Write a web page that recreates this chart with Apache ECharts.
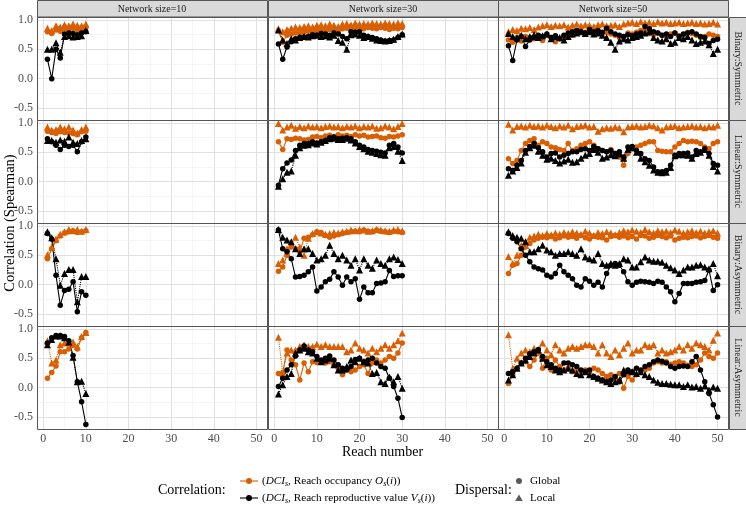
<!DOCTYPE html>
<html>
<head>
<meta charset="utf-8">
<script src="https://cdn.jsdelivr.net/npm/echarts@6/dist/echarts.min.js"></script>
<style>
html, body { margin: 0; padding: 0; background: #fff; }
#chart { width: 746px; height: 513px; }
</style>
</head>
<body>
<div id="chart"></div>
<script>
const FONT = '"Liberation Serif", "DejaVu Serif", serif';
const ORANGE = '#d95f02';
const BLACK = '#000000';

const networkSizes = [10, 30, 50];
const scenarios = ['Binary:Symmetric', 'Linear:Symmetric', 'Binary:Asymmetric', 'Linear:Asymmetric'];
const xTicks = [0, 10, 20, 30, 40, 50];
const xMinor = [5, 15, 25, 35, 45];
const yTicks = [-0.5, 0, 0.5, 1];
const yMinor = [-0.25, 0.25, 0.75];

// Binary:Symmetric
const bs10OccG = [0.80,0.77,0.83,0.81,0.85,0.83,0.86,0.84,0.82,0.87];
const bs10OccL = [0.86,0.82,0.90,0.88,0.92,0.90,0.93,0.91,0.90,0.93];
const bs10RepG = [0.33,0.00,0.50,0.35,0.76,0.78,0.77,0.75,0.78,0.80];
const bs10RepL = [0.50,0.50,0.61,0.45,0.72,0.73,0.71,0.72,0.73,0.82];
const bs30OccG = [0.82,0.62,0.74,0.76,0.78,0.77,0.80,0.81,0.79,0.82,0.83,0.81,0.84,0.83,0.80,0.85,0.86,0.84,0.87,0.86,0.85,0.87,0.86,0.85,0.87,0.86,0.84,0.86,0.85,0.87];
const bs30OccL = [0.85,0.80,0.84,0.86,0.88,0.87,0.89,0.90,0.88,0.91,0.92,0.90,0.93,0.91,0.89,0.93,0.94,0.92,0.95,0.93,0.94,0.93,0.95,0.94,0.93,0.95,0.94,0.93,0.95,0.94];
const bs30RepG = [0.59,0.33,0.54,0.63,0.68,0.70,0.71,0.72,0.75,0.74,0.77,0.76,0.74,0.78,0.76,0.72,0.68,0.80,0.79,0.80,0.74,0.72,0.70,0.68,0.66,0.64,0.65,0.66,0.70,0.75];
const bs30RepL = [0.83,0.66,0.60,0.68,0.66,0.70,0.72,0.71,0.73,0.74,0.72,0.73,0.71,0.74,0.65,0.62,0.50,0.75,0.76,0.74,0.70,0.72,0.69,0.66,0.65,0.64,0.65,0.67,0.72,0.76];
const bs50OccG = [0.66,0.62,0.70,0.64,0.72,0.70,0.68,0.72,0.65,0.74,0.70,0.63,0.68,0.72,0.76,0.74,0.78,0.80,0.79,0.81,0.78,0.80,0.77,0.79,0.76,0.74,0.70,0.72,0.78,0.76,0.79,0.82,0.80,0.77,0.75,0.78,0.74,0.72,0.76,0.78,0.73,0.75,0.79,0.77,0.74,0.70,0.72,0.76,0.74,0.72];
const bs50OccL = [0.80,0.84,0.82,0.86,0.85,0.87,0.84,0.88,0.90,0.92,0.89,0.91,0.90,0.92,0.88,0.91,0.93,0.90,0.92,0.91,0.89,0.92,0.93,0.90,0.91,0.92,0.89,0.93,0.95,0.96,0.94,0.97,0.95,0.96,0.94,0.97,0.95,0.96,0.94,0.95,0.96,0.94,0.95,0.96,0.94,0.95,0.93,0.94,0.96,0.93];
const bs50RepG = [0.56,0.31,0.66,0.72,0.55,0.66,0.70,0.74,0.72,0.76,0.70,0.73,0.68,0.74,0.78,0.80,0.82,0.80,0.78,0.84,0.80,0.82,0.79,0.86,0.80,0.76,0.74,0.72,0.75,0.73,0.76,0.78,0.89,0.85,0.80,0.78,0.74,0.76,0.72,0.78,0.72,0.76,0.78,0.80,0.76,0.72,0.70,0.60,0.65,0.67];
const bs50RepL = [0.77,0.72,0.70,0.74,0.68,0.72,0.75,0.70,0.73,0.76,0.68,0.72,0.70,0.66,0.72,0.76,0.78,0.80,0.77,0.80,0.76,0.78,0.74,0.70,0.62,0.50,0.64,0.68,0.66,0.70,0.72,0.74,0.78,0.80,0.70,0.66,0.64,0.68,0.60,0.62,0.70,0.68,0.72,0.66,0.60,0.62,0.64,0.58,0.43,0.50];

// Linear:Symmetric
const ls10OccG = [0.86,0.84,0.82,0.85,0.84,0.83,0.82,0.80,0.85,0.86];
const ls10OccL = [0.93,0.88,0.89,0.93,0.90,0.93,0.88,0.83,0.89,0.93];
const ls10RepG = [0.73,0.68,0.62,0.55,0.62,0.60,0.62,0.51,0.68,0.76];
const ls10RepL = [0.70,0.70,0.67,0.71,0.69,0.76,0.67,0.65,0.70,0.73];
const ls30OccG = [0.68,0.55,0.73,0.72,0.74,0.73,0.71,0.72,0.76,0.77,0.75,0.78,0.79,0.77,0.80,0.78,0.79,0.77,0.80,0.78,0.79,0.76,0.77,0.78,0.75,0.74,0.77,0.76,0.78,0.80];
const ls30OccL = [0.99,0.88,0.93,0.96,0.91,0.94,0.92,0.95,0.93,0.94,0.92,0.94,0.95,0.93,0.94,0.92,0.94,0.93,0.95,0.92,0.94,0.93,0.95,0.91,0.92,0.95,0.93,0.90,0.94,0.99];
const ls30RepG = [-0.06,0.22,0.32,0.37,0.53,0.62,0.65,0.65,0.68,0.66,0.68,0.70,0.75,0.76,0.73,0.74,0.75,0.73,0.68,0.62,0.59,0.55,0.53,0.52,0.50,0.49,0.62,0.65,0.59,0.49];
const ls30RepL = [-0.08,0.05,0.16,0.18,0.45,0.58,0.62,0.63,0.66,0.64,0.67,0.70,0.73,0.74,0.72,0.72,0.74,0.71,0.66,0.60,0.56,0.52,0.50,0.48,0.46,0.45,0.58,0.60,0.52,0.36];
const ls50OccG = [0.39,0.31,0.36,0.53,0.65,0.70,0.73,0.62,0.68,0.65,0.59,0.58,0.55,0.53,0.65,0.53,0.56,0.62,0.65,0.68,0.62,0.56,0.53,0.51,0.55,0.48,0.42,0.28,0.48,0.56,0.59,0.62,0.65,0.68,0.68,0.53,0.52,0.51,0.51,0.59,0.65,0.70,0.68,0.69,0.68,0.65,0.59,0.56,0.65,0.68];
const ls50OccL = [0.98,0.88,0.94,0.95,0.93,0.96,0.94,0.95,0.93,0.96,0.94,0.92,0.95,0.93,0.96,0.90,0.94,0.95,0.96,0.93,0.94,0.86,0.90,0.92,0.91,0.93,0.92,0.85,0.93,0.94,0.95,0.93,0.94,0.96,0.95,0.92,0.88,0.93,0.94,0.95,0.92,0.93,0.94,0.95,0.93,0.94,0.92,0.94,0.93,0.96];
const ls50RepG = [0.22,0.19,0.28,0.36,0.53,0.60,0.65,0.58,0.51,0.42,0.48,0.49,0.42,0.45,0.48,0.51,0.51,0.55,0.56,0.53,0.60,0.56,0.53,0.51,0.53,0.48,0.51,0.42,0.59,0.60,0.53,0.48,0.39,0.36,0.25,0.17,0.17,0.19,0.28,0.45,0.48,0.48,0.49,0.42,0.53,0.51,0.56,0.48,0.31,0.28];
const ls50RepL = [0.11,0.18,0.24,0.32,0.50,0.58,0.62,0.52,0.45,0.38,0.40,0.36,0.32,0.35,0.38,0.33,0.34,0.40,0.45,0.48,0.55,0.50,0.40,0.42,0.46,0.44,0.47,0.40,0.55,0.58,0.50,0.40,0.34,0.28,0.20,0.16,0.15,0.16,0.24,0.44,0.46,0.46,0.45,0.40,0.48,0.50,0.55,0.45,0.26,0.18];

// Binary:Asymmetric
const ba10OccG = [0.44,0.61,0.75,0.83,0.88,0.90,0.92,0.89,0.90,0.92];
const ba10OccL = [0.51,0.64,0.78,0.86,0.90,0.94,0.92,0.94,0.91,0.94];
const ba10RepG = [0.87,0.78,0.16,-0.35,-0.10,-0.08,0.05,-0.46,-0.12,-0.18];
const ba10RepL = [0.90,0.80,0.44,-0.01,0.19,0.26,0.26,-0.29,0.14,0.14];
const ba30OccG = [0.23,0.30,0.50,0.64,0.61,0.56,0.79,0.81,0.85,0.90,0.89,0.84,0.81,0.83,0.85,0.87,0.89,0.90,0.91,0.90,0.93,0.91,0.90,0.93,0.91,0.90,0.89,0.91,0.90,0.89];
const ba30OccL = [0.36,0.42,0.61,0.67,0.81,0.64,0.50,0.79,0.87,0.90,0.88,0.86,0.87,0.89,0.88,0.90,0.91,0.93,0.92,0.94,0.93,0.91,0.92,0.94,0.93,0.92,0.91,0.93,0.94,0.92];
const ba30RepG = [0.93,0.61,0.56,0.44,0.13,0.14,0.16,0.22,0.30,-0.11,-0.04,0.05,0.09,0.22,0.13,-0.01,0.13,0.05,0.10,-0.25,-0.04,-0.14,-0.14,0.02,0.03,0.05,0.24,0.14,0.15,0.15];
const ba30RepL = [0.94,0.81,0.76,0.73,0.61,0.53,0.61,0.61,0.53,0.42,0.44,0.50,0.67,0.53,0.44,0.50,0.42,0.33,0.44,0.25,0.44,0.33,0.28,0.42,0.36,0.33,0.44,0.47,0.43,0.36];
const ba50OccG = [0.19,0.33,0.36,0.50,0.64,0.70,0.76,0.79,0.81,0.80,0.82,0.78,0.80,0.83,0.81,0.82,0.79,0.84,0.80,0.78,0.83,0.81,0.80,0.76,0.82,0.84,0.81,0.83,0.80,0.82,0.78,0.84,0.83,0.79,0.81,0.84,0.82,0.80,0.83,0.76,0.79,0.81,0.80,0.82,0.83,0.80,0.82,0.84,0.81,0.79];
const ba50OccL = [0.48,0.36,0.50,0.67,0.73,0.81,0.83,0.86,0.84,0.87,0.85,0.88,0.86,0.89,0.87,0.90,0.88,0.86,0.91,0.88,0.84,0.89,0.87,0.90,0.88,0.85,0.89,0.92,0.90,0.93,0.91,0.89,0.94,0.90,0.88,0.92,0.90,0.91,0.89,0.93,0.91,0.88,0.90,0.92,0.89,0.91,0.88,0.90,0.92,0.88];
const ba50RepG = [0.87,0.79,0.73,0.61,0.50,0.39,0.30,0.27,0.25,0.16,0.13,0.19,0.33,0.22,0.16,0.10,-0.01,-0.04,0.10,0.06,-0.01,0.04,-0.04,0.19,0.33,0.36,0.33,0.22,0.05,-0.01,0.04,0.06,0.05,0.04,0.02,0.06,0.04,-0.04,-0.12,-0.29,-0.15,0.02,0.02,0.02,0.04,0.05,0.07,0.25,-0.10,0.00];
const ba50RepL = [0.90,0.84,0.81,0.79,0.73,0.56,0.56,0.61,0.67,0.59,0.56,0.50,0.53,0.53,0.56,0.53,0.50,0.61,0.47,0.44,0.42,0.53,0.36,0.33,0.36,0.33,0.36,0.44,0.42,0.30,0.30,0.39,0.47,0.42,0.40,0.40,0.38,0.33,0.29,0.25,0.19,0.25,0.30,0.30,0.33,0.34,0.30,0.27,0.36,0.15];

// Linear:Asymmetric
const la10OccG = [0.16,0.26,0.37,0.61,0.61,0.66,0.72,0.66,0.85,0.94];
const la10OccL = [0.80,0.42,0.47,0.73,0.76,0.77,0.78,0.70,0.87,0.94];
const la10RepG = [0.76,0.85,0.89,0.89,0.87,0.80,0.55,0.10,-0.24,-0.63];
const la10RepL = [0.73,0.82,0.88,0.88,0.85,0.78,0.52,0.10,0.11,-0.10];
const la30OccG = [0.24,0.26,0.64,0.47,0.39,0.13,0.42,0.27,0.44,0.43,0.44,0.42,0.44,0.39,0.33,0.22,0.33,0.27,0.30,0.36,0.39,0.24,0.42,0.47,0.42,0.47,0.53,0.50,0.59,0.76];
const la30OccL = [0.86,0.24,0.59,0.64,0.64,0.70,0.73,0.70,0.70,0.74,0.70,0.73,0.70,0.70,0.70,0.70,0.61,0.64,0.76,0.67,0.64,0.59,0.67,0.61,0.67,0.73,0.67,0.73,0.80,0.93];
const la30RepG = [0.02,0.16,0.30,0.39,0.54,0.64,0.71,0.64,0.61,0.53,0.47,0.50,0.54,0.47,0.39,0.33,0.30,0.36,0.48,0.50,0.44,0.47,0.50,0.42,0.36,0.33,0.16,0.02,-0.18,-0.51];
const la30RepL = [-0.11,0.05,0.19,0.24,0.59,0.64,0.67,0.61,0.59,0.50,0.44,0.47,0.50,0.39,0.30,0.30,0.36,0.47,0.44,0.50,0.44,0.42,0.24,0.26,0.10,0.07,0.18,0.10,0.19,-0.01];
const la50OccG = [0.07,0.22,0.33,0.42,0.44,0.36,0.47,0.59,0.33,0.50,0.30,0.47,0.36,0.30,0.33,0.27,0.30,0.24,0.30,0.27,0.33,0.30,0.24,0.19,0.22,0.16,0.24,-0.01,0.19,0.13,0.22,0.27,0.30,0.33,0.42,0.44,0.42,0.44,0.40,0.42,0.44,0.42,0.38,0.36,0.39,0.47,0.59,0.53,0.50,0.59];
const la50OccL = [0.90,0.33,0.50,0.59,0.64,0.61,0.67,0.64,0.76,0.64,0.56,0.73,0.64,0.59,0.67,0.70,0.67,0.70,0.73,0.73,0.70,0.59,0.73,0.59,0.53,0.64,0.56,0.67,0.76,0.59,0.64,0.64,0.73,0.70,0.73,0.59,0.64,0.59,0.61,0.64,0.70,0.64,0.73,0.67,0.76,0.73,0.70,0.64,0.81,0.93];
const la50RepG = [0.24,0.27,0.33,0.42,0.50,0.58,0.61,0.65,0.53,0.44,0.39,0.33,0.30,0.42,0.42,0.39,0.36,0.30,0.27,0.30,0.19,0.16,0.13,0.10,0.13,0.19,0.10,0.22,0.30,0.27,0.33,0.30,0.36,0.39,0.44,0.47,0.45,0.42,0.36,0.33,0.36,0.37,0.36,0.44,0.53,0.30,0.10,-0.10,-0.29,-0.50];
const la50RepL = [0.13,0.22,0.33,0.42,0.47,0.53,0.59,0.64,0.50,0.39,0.36,0.30,0.27,0.30,0.33,0.30,0.24,0.22,0.27,0.22,0.19,0.16,0.13,0.10,0.07,0.10,0.13,0.30,0.29,0.27,0.24,0.27,0.22,0.19,0.13,0.09,0.07,0.07,0.06,0.05,0.05,0.02,0.05,0.01,0.02,-0.01,0.03,-0.04,0.01,-0.01];

// rows = scenarios, cols = network sizes; each cell [occG, occL, repG, repL]
const panels = [
  [[bs10OccG, bs10OccL, bs10RepG, bs10RepL], [bs30OccG, bs30OccL, bs30RepG, bs30RepL], [bs50OccG, bs50OccL, bs50RepG, bs50RepL]],
  [[ls10OccG, ls10OccL, ls10RepG, ls10RepL], [ls30OccG, ls30OccL, ls30RepG, ls30RepL], [ls50OccG, ls50OccL, ls50RepG, ls50RepL]],
  [[ba10OccG, ba10OccL, ba10RepG, ba10RepL], [ba30OccG, ba30OccL, ba30RepG, ba30RepL], [ba50OccG, ba50OccL, ba50RepG, ba50RepL]],
  [[la10OccG, la10OccL, la10RepG, la10RepL], [la30OccG, la30OccL, la30RepG, la30RepL], [la50OccG, la50OccL, la50RepG, la50RepL]]
];

const colLeft = [37, 268, 498];
const colW = 230;
const rowTop = [17, 120, 223, 326];
const rowH = 103;

const grids = [], xAxes = [], yAxes = [], series = [];

function gridLines() {
  const major = { color: '#e0e0e0', width: 1, type: 'solid' };
  const minor = { color: '#efefef', width: 0.6, type: 'solid' };
  const d = [];
  xTicks.forEach(v => d.push({ xAxis: v, lineStyle: major }));
  xMinor.forEach(v => d.push({ xAxis: v, lineStyle: minor }));
  yTicks.forEach(v => d.push({ yAxis: v, lineStyle: major }));
  yMinor.forEach(v => d.push({ yAxis: v, lineStyle: minor }));
  return d;
}

panels.forEach((row, r) => {
  row.forEach((cell, c) => {
    const k = grids.length;
    grids.push({
      left: colLeft[c], top: rowTop[r], width: colW, height: rowH,
      show: true, borderColor: 'transparent', borderWidth: 0, backgroundColor: '#fff'
    });
    xAxes.push({
      type: 'value', gridIndex: k, min: -1.45, max: 52.45,
      splitLine: { show: false }, axisLine: { show: false },
      axisTick: { show: r === 3, customValues: xTicks, length: 3, lineStyle: { color: '#333', width: 0.8 } },
      axisLabel: { show: r === 3, customValues: xTicks, margin: 4, color: '#4d4d4d', fontFamily: FONT, fontSize: 12 }
    });
    yAxes.push({
      type: 'value', gridIndex: k, min: -0.705, max: 1.051,
      splitLine: { show: false }, axisLine: { show: false },
      axisTick: { show: c === 0, customValues: yTicks, length: 3, lineStyle: { color: '#333', width: 0.8 } },
      axisLabel: { show: c === 0, customValues: yTicks, margin: 4, color: '#4d4d4d', fontFamily: FONT, fontSize: 12,
        formatter: v => v.toFixed(1) }
    });
    const specs = [
      { vals: cell[1], color: ORANGE, sym: 'triangle', size: 7, dash: 'dotted', name: 'occL' },
      { vals: cell[0], color: ORANGE, sym: 'circle', size: 5.5, dash: 'solid', name: 'occG' },
      { vals: cell[3], color: BLACK, sym: 'triangle', size: 7, dash: 'dotted', name: 'repL' },
      { vals: cell[2], color: BLACK, sym: 'circle', size: 5.5, dash: 'solid', name: 'repG' }
    ];
    specs.forEach((s, j) => {
      const ser = {
        type: 'line', name: s.name, xAxisIndex: k, yAxisIndex: k,
        data: s.vals.map((v, i) => [i + 1, v]),
        symbol: s.sym, symbolSize: s.size, showAllSymbol: true,
        lineStyle: { color: s.color, width: 1.1, type: s.dash },
        itemStyle: { color: s.color, borderWidth: 0 },
        animation: false, silent: true
      };
      if (j === 0) {
        ser.markLine = {
          silent: true, z: 1, symbol: ['none', 'none'], label: { show: false },
          animation: false, data: gridLines()
        };
      }
      series.push(ser);
    });
  });
});

const graphics = [];
// panel borders drawn on top of everything
panels.forEach((row, r) => {
  row.forEach((cell, c) => {
    graphics.push({
      type: 'rect', shape: { x: colLeft[c] + 0.5, y: rowTop[r] + 0.5, width: colW, height: rowH },
      style: { fill: 'none', stroke: '#555', lineWidth: 1 }, z: 9, silent: true
    });
  });
});
networkSizes.forEach((n, c) => {
  graphics.push({
    type: 'rect', shape: { x: colLeft[c] + 0.5, y: 0.5, width: colW, height: 16.5 },
    style: { fill: '#d9d9d9', stroke: '#555', lineWidth: 1 }, z: 10
  });
  graphics.push({
    type: 'text', x: colLeft[c] + colW / 2, y: 9, z: 11,
    style: { text: 'Network size=' + n, fill: '#1a1a1a', font: '10px ' + FONT,
      align: 'center', verticalAlign: 'middle', textAlign: 'center', textVerticalAlign: 'middle' }
  });
});
scenarios.forEach((s, r) => {
  graphics.push({
    type: 'rect', shape: { x: 729.5, y: rowTop[r] + 0.5, width: 20, height: rowH },
    style: { fill: '#d9d9d9', stroke: '#555', lineWidth: 1 }, z: 10
  });
  graphics.push({
    type: 'text', x: 738, y: rowTop[r] + rowH / 2, rotation: -Math.PI / 2, z: 11,
    style: { text: s, fill: '#1a1a1a', font: '10px ' + FONT,
      align: 'center', verticalAlign: 'middle', textAlign: 'center', textVerticalAlign: 'middle' }
  });
});
graphics.push({
  type: 'text', x: 10, y: 223, rotation: Math.PI / 2,
  style: { text: 'Correlation (Spearman)', fill: '#000', font: '14.5px ' + FONT,
    align: 'center', verticalAlign: 'middle', textAlign: 'center', textVerticalAlign: 'middle' }
});
graphics.push({
  type: 'text', x: 382.5, y: 452,
  style: { text: 'Reach number', fill: '#000', font: '14px ' + FONT,
    align: 'center', verticalAlign: 'middle', textAlign: 'center', textVerticalAlign: 'middle' }
});

// legend
const rich = {
  t: { fontFamily: FONT, fontSize: 14, color: '#000' },
  n: { fontFamily: FONT, fontSize: 11.2, color: '#000', lineHeight: 14 },
  i: { fontFamily: FONT, fontSize: 11.2, fontStyle: 'italic', color: '#000', lineHeight: 14 },
  s: { fontFamily: FONT, fontSize: 8, fontStyle: 'italic', color: '#000', lineHeight: 14, verticalAlign: 'bottom', padding: [5, 0, 0, 0] }
};
function legendText(x, y, text) {
  graphics.push({
    type: 'text', x: x, y: y,
    style: { text: text, rich: rich, align: 'left', verticalAlign: 'middle', textAlign: 'left', textVerticalAlign: 'middle' }
  });
}
function keyLine(y, color) {
  graphics.push({ type: 'line', shape: { x1: 240, y1: y, x2: 258, y2: y },
    style: { stroke: color, lineWidth: 1.1 } });
}
legendText(158, 490, '{t|Correlation:}');
keyLine(481, ORANGE);
graphics.push({ type: 'circle', shape: { cx: 249, cy: 481, r: 3 }, style: { fill: ORANGE } });
legendText(262, 481, '{n|(}{i|DCI}{s|s}{n|, Reach occupancy }{i|O}{s|s}{n|(}{i|i}{n|))}');
keyLine(498, BLACK);
graphics.push({ type: 'circle', shape: { cx: 249, cy: 498, r: 3 }, style: { fill: BLACK } });
legendText(262, 498, '{n|(}{i|DCI}{s|s}{n|, Reach reproductive value }{i|V}{s|s}{n|(}{i|i}{n|))}');
legendText(455, 490, '{t|Dispersal:}');
graphics.push({ type: 'circle', shape: { cx: 519, cy: 481, r: 3 }, style: { fill: '#5a5a5a' } });
graphics.push({ type: 'polygon', shape: { points: [[519, 494.5], [522.8, 501], [515.2, 501]] }, style: { fill: '#5a5a5a' } });
legendText(530, 481, '{n|Global}');
legendText(530, 498, '{n|Local}');

const chart = echarts.init(document.getElementById('chart'), null, { renderer: 'canvas' });
chart.setOption({
  animation: false,
  backgroundColor: '#fff',
  grid: grids,
  xAxis: xAxes,
  yAxis: yAxes,
  series: series,
  graphic: { elements: graphics }
});
</script>
</body>
</html>
